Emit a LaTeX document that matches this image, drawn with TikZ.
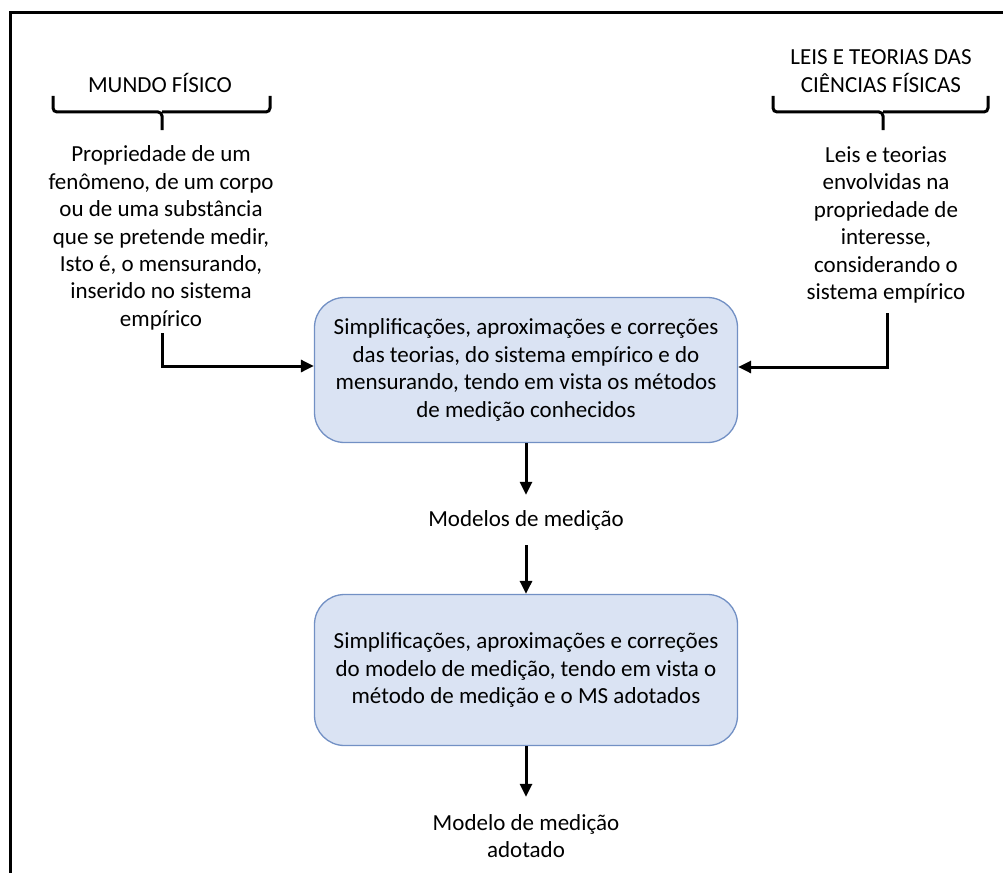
\documentclass[tikz,border=0pt]{standalone}
\usepackage{fontspec}
\setmainfont{Carlito}
\usetikzlibrary{arrows.meta}
\definecolor{azulcaixa}{RGB}{218,227,243}
\definecolor{bordacaixa}{RGB}{114,144,196}
\begin{document}
\begin{tikzpicture}[x=1pt, y=-1pt]
    \tikzset{
      texto/.style={align=center, font=\fontsize{23}{27.4}\selectfont, inner sep=0pt},
      caixa/.style={draw=bordacaixa, line width=1.3pt, fill=azulcaixa, rounded corners=30pt, minimum width=423pt, align=center, font=\fontsize{23}{27.7}\selectfont},
      chave/.style={line width=3pt, rounded corners=4pt},
      seta/.style={line width=3pt, -{Triangle[length=13pt, width=12pt]}}
    }
    \clip (0,0) rectangle (1003,872);
    \useasboundingbox (0,0) rectangle (1003,872);
    % moldura
    \draw[line width=3pt] (10,900) |- (1030,13);

    % lado esquerdo
    \node[texto] (mundo) at (160,83) {MUNDO FÍSICO};
    \draw[chave] (53,96) |- (162,112) -- (162,130);
    \draw[chave] (270,96) |- (162,112);
    \node[texto] (propriedade) at (161,238) {Propriedade de um\\fenômeno, de um corpo\\ou de uma substância\\que se pretende medir,\\Isto é, o mensurando,\\inserido no sistema\\empírico};
    \coordinate (pontaesq) at (162,333);

    % lado direito
    \node[texto] (leis) at (881,71) {LEIS E TEORIAS DAS\\CIÊNCIAS FÍSICAS};
    \draw[chave] (773,96) |- (883,112) -- (883,130);
    \draw[chave] (988,96) |- (883,112);
    \node[texto] (teorias) at (886,225) {Leis e teorias\\envolvidas na\\propriedade de\\interesse,\\considerando o\\sistema empírico};
    \coordinate (pontadir) at (887,313);

    % caixas centrais
    \node[caixa, minimum height=145pt] (simplif1) at (526,370) {Simplificações, aproximações e correções\\das teorias, do sistema empírico e do\\mensurando, tendo em vista os métodos\\de medição conhecidos};
    \node[texto, minimum height=50pt] (modelos) at (526,520) {Modelos de medição};
    \node[caixa, minimum height=151pt] (simplif2) at (526,670) {Simplificações, aproximações e correções\\do modelo de medição, tendo em vista o\\método de medição e o MS adotados};
    \node[texto, minimum height=78pt] (adotado) at (526,836) {Modelo de medição\\adotado};

    \draw[seta] (pontaesq) |- ([yshift=4pt]simplif1.west);
    \draw[seta] (pontadir) |- ([yshift=3pt]simplif1.east);
    \draw[seta] (simplif1.south) -- (modelos.north);
    \draw[seta] (modelos.south) -- (simplif2.north);
    \draw[seta] (simplif2.south) -- (adotado.north);
\end{tikzpicture}
\end{document}
